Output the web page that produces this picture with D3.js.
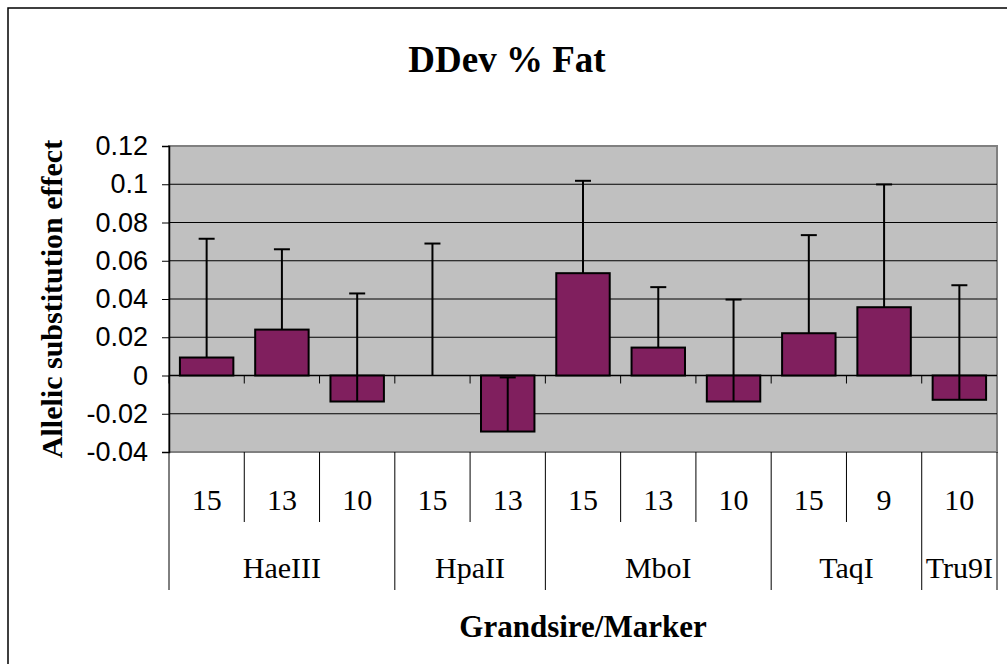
<!DOCTYPE html>
<html><head><meta charset="utf-8">
<script src="https://cdn.jsdelivr.net/npm/d3@7"></script>
<style>body{margin:0;background:#fff}svg{display:block}</style>
</head><body>
<script>
const groups = ["HaeIII","HaeIII","HaeIII","HpaII","HpaII","MboI","MboI","MboI","TaqI","TaqI","Tru9I"];
const grandsires = ["15","13","10","15","13","15","13","10","15","9","10"];
const values = [0.0094,0.024,-0.0136,0,-0.0293,0.0535,0.0146,-0.0136,0.0221,0.0357,-0.0127];
const errorsUp = [0.0621,0.042,0.0565,0.069,0.0283,0.0483,0.0316,0.0533,0.0513,0.0642,0.0599];
const yTicks = [-0.04,-0.02,0,0.02,0.04,0.06,0.08,0.1,0.12];
const title = "DDev % Fat";
const xTitle = "Grandsire/Marker";
const yTitle = "Allelic substitution effect";

const W = 1007, H = 664;
const L = 169, R = 997, T = 146, B = 452;
const svg = d3.select("body").append("svg").attr("width", W).attr("height", H);

svg.append("rect").attr("x",8).attr("y",8).attr("width",W+10).attr("height",H+10)
  .attr("fill","#fff").attr("stroke","#000").attr("stroke-width",1.5);

const idx = d3.range(values.length);
const x = d3.scaleBand().domain(idx).range([L,R]).paddingInner(0.29).paddingOuter(0.145);
const xb = d3.scaleBand().domain(idx).range([L,R]);
const y = d3.scaleLinear().domain([-0.04,0.12]).range([B,T]);

svg.append("rect").attr("x",L).attr("y",T).attr("width",R-L).attr("height",B-T)
  .attr("fill","#C0C0C0").attr("stroke","#808080").attr("stroke-width",2);

// gridlines
svg.append("g").selectAll("line").data(yTicks.filter(t=>t>-0.04 && t<0.12 && t!==0)).join("line")
  .attr("x1",L).attr("x2",R).attr("y1",d=>y(d)).attr("y2",d=>y(d))
  .attr("stroke","#000").attr("stroke-width",1);

// y axis
const yAxis = d3.axisLeft(y).tickValues(yTicks).tickSize(7).tickPadding(14)
  .tickFormat(d=>String(+d.toFixed(2)));
const ga = svg.append("g").attr("transform",`translate(${L},0)`).call(yAxis);
ga.select(".domain").attr("stroke","#000").attr("stroke-width",1.5);
ga.selectAll(".tick line").attr("stroke","#000");
ga.selectAll("text").attr("font-family","'Liberation Sans',Arial,sans-serif").attr("font-size",27).attr("fill","#000");

// zero axis with ticks
svg.append("line").attr("x1",L).attr("x2",R).attr("y1",y(0)).attr("y2",y(0)).attr("stroke","#000").attr("stroke-width",1.5);
svg.append("g").selectAll("line").data(idx).join("line")
  .attr("x1",d=>xb(d)).attr("x2",d=>xb(d)).attr("y1",y(0)).attr("y2",y(0)+8)
  .attr("stroke","#000").attr("stroke-width",1);

// bars
svg.append("g").selectAll("rect").data(idx.filter(i=>values[i]!==0)).join("rect")
  .attr("x",i=>x(i)).attr("width",x.bandwidth())
  .attr("y",i=>y(Math.max(0,values[i]))).attr("height",i=>Math.abs(y(values[i])-y(0)))
  .attr("fill","#801F5E").attr("stroke","#000").attr("stroke-width",2);

// error bars (plus only)
const eg = svg.append("g").attr("stroke","#000").attr("stroke-width",2);
idx.forEach(i=>{
  const cx = x(i)+x.bandwidth()/2;
  const y0 = y(values[i]), y1 = y(values[i]+errorsUp[i]);
  eg.append("line").attr("x1",cx).attr("x2",cx).attr("y1",y0).attr("y2",y1);
  eg.append("line").attr("x1",cx-8).attr("x2",cx+8).attr("y1",y1).attr("y2",y1);
});

// category label lines
const lg = svg.append("g").attr("stroke","#000").attr("stroke-width",1);
idx.concat([values.length]).forEach(i=>{
  const xx = i<values.length ? xb(i) : R;
  const isGroup = i===0 || i===values.length || groups[i]!==groups[i-1];
  lg.append("line").attr("x1",xx).attr("x2",xx).attr("y1",B).attr("y2",isGroup?590:522);
});

const serif = "'Liberation Serif','Times New Roman',serif";
svg.append("g").selectAll("text").data(idx).join("text")
  .attr("x",i=>xb(i)+xb.bandwidth()/2).attr("y",510).attr("text-anchor","middle")
  .attr("font-family",serif).attr("font-size",30).text(i=>grandsires[i]);

const groupNames = [...new Set(groups)];
groupNames.forEach(g=>{
  const ii = idx.filter(i=>groups[i]===g);
  const x0 = xb(ii[0]), x1 = xb(ii[ii.length-1])+xb.bandwidth();
  svg.append("text").attr("x",(x0+x1)/2).attr("y",578).attr("text-anchor","middle")
    .attr("font-family",serif).attr("font-size",30).text(g);
});

svg.append("text").attr("x",507).attr("y",72).attr("text-anchor","middle")
  .attr("font-family",serif).attr("font-weight","bold").attr("font-size",37).text(title);
svg.append("text").attr("x",(L+R)/2).attr("y",637).attr("text-anchor","middle")
  .attr("font-family",serif).attr("font-weight","bold").attr("font-size",31).text(xTitle);
svg.append("text").attr("transform",`translate(62,${(T+B)/2}) rotate(-90)`).attr("text-anchor","middle")
  .attr("font-family",serif).attr("font-weight","bold").attr("font-size",30).text(yTitle);
</script>
</body></html>
